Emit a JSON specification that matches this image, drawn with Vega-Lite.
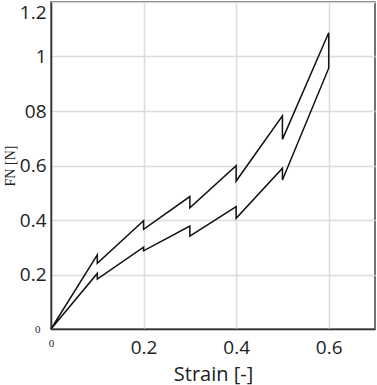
{
  "$schema": "https://vega.github.io/schema/vega-lite/v6.json",
  "width": 324,
  "height": 327,
  "autosize": "none",
  "padding": {"left": 51, "top": 2, "right": 2, "bottom": 56},
  "background": "white",
  "config": {
    "view": {"stroke": "#444", "strokeWidth": 1.5},
    "axis": {"grid": true, "gridColor": "#dcdcdc", "gridWidth": 1.5, "ticks": false, "domainColor": "#333", "domainWidth": 1.5, "labelColor": "#222", "titleColor": "#222", "labelFont": "Open Sans", "titleFont": "Open Sans"}
  },
  "data": {"values": [
    {"i": 0, "strain": 0, "fn": 0},
    {"i": 1, "strain": 0.1, "fn": 0.272},
    {"i": 2, "strain": 0.1, "fn": 0.241},
    {"i": 3, "strain": 0.2, "fn": 0.397},
    {"i": 4, "strain": 0.2, "fn": 0.366},
    {"i": 5, "strain": 0.3, "fn": 0.486},
    {"i": 6, "strain": 0.3, "fn": 0.445},
    {"i": 7, "strain": 0.4, "fn": 0.599},
    {"i": 8, "strain": 0.4, "fn": 0.543},
    {"i": 9, "strain": 0.5, "fn": 0.782},
    {"i": 10, "strain": 0.5, "fn": 0.696},
    {"i": 11, "strain": 0.6, "fn": 1.087},
    {"i": 12, "strain": 0.6, "fn": 0.957},
    {"i": 13, "strain": 0.5, "fn": 0.547},
    {"i": 14, "strain": 0.5, "fn": 0.59},
    {"i": 15, "strain": 0.4, "fn": 0.406},
    {"i": 16, "strain": 0.4, "fn": 0.449},
    {"i": 17, "strain": 0.3, "fn": 0.341},
    {"i": 18, "strain": 0.3, "fn": 0.378},
    {"i": 19, "strain": 0.2, "fn": 0.287},
    {"i": 20, "strain": 0.2, "fn": 0.30},
    {"i": 21, "strain": 0.1, "fn": 0.183},
    {"i": 22, "strain": 0.1, "fn": 0.204},
    {"i": 23, "strain": 0, "fn": 0}
  ]},
  "mark": {"type": "line", "color": "#111", "strokeWidth": 1.5, "strokeJoin": "miter"},
  "encoding": {
    "order": {"field": "i", "type": "quantitative"},
    "x": {
      "field": "strain", "type": "quantitative",
      "scale": {"domain": [0, 0.7], "nice": false, "zero": true},
      "axis": {
        "values": [0, 0.2, 0.4, 0.6],
        "format": "~g",
        "title": "Strain [-]",
        "titleFontSize": 20, "titleFontWeight": "normal", "titlePadding": 7,
        "labelFontSize": {"condition": {"test": "datum.value == 0", "value": 11}, "value": 19},
        "labelFont": {"condition": {"test": "datum.value == 0", "value": "Liberation Serif"}, "value": "Open Sans"},
        "labelPadding": {"condition": {"test": "datum.value == 0", "value": 8}, "value": 9},
        "labelFlush": false
      }
    },
    "y": {
      "field": "fn", "type": "quantitative",
      "scale": {"domain": [0, 1.2], "nice": false},
      "axis": {
        "values": [0, 0.2, 0.4, 0.6, 0.8, 1, 1.2],
        "format": "~g",
        "labelExpr": "datum.value == 0.8 ? '08' : datum.label",
        "title": "FN [N]",
        "titleFont": "Liberation Serif", "titleFontWeight": "normal", "titleFontSize": 14,
        "titlePadding": 2,
        "labelFontSize": {"condition": {"test": "datum.value == 0", "value": 11}, "value": 19},
        "labelFont": {"condition": {"test": "datum.value == 0", "value": "Liberation Serif"}, "value": "Open Sans"},
        "labelBaseline": {"condition": {"test": "datum.value == 1.2", "value": "top"}, "value": "middle"},
        "labelOffset": {"condition": {"test": "datum.value == 1.2", "value": 1}, "value": 0},
        "labelPadding": {"condition": {"test": "datum.value == 0", "value": 11}, "value": 5},
        "labelFlush": false
      }
    }
  }
}
